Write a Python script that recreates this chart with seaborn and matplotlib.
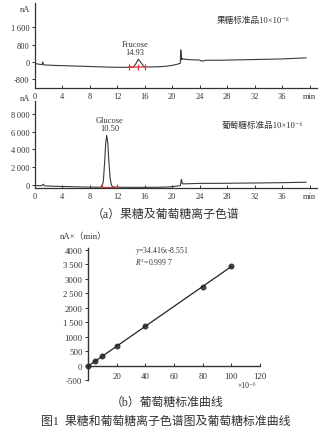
import matplotlib
matplotlib.use("Agg")
import matplotlib.pyplot as plt
import numpy as np
import pandas as pd
import seaborn as sns

# ---------------- data ----------------
fru_time = [0.2, 0.8, 1.1, 1.2, 1.3, 1.6, 3, 5, 7, 9, 11, 13, 13.9, 14.4, 14.8, 15.1,
            15.5, 15.9, 16.2, 17, 18, 19, 20, 20.8, 21.2, 21.25, 21.3, 21.4, 21.5, 22,
            23, 24, 24.3, 25, 27, 30, 33, 36, 38, 39.5]
fru_signal = [-80, -110, -120, 0, -130, -140, -160, -180, -200, -220, -240, -250, -240,
              -230, -50, 130, -40, -210, -230, -230, -220, -200, -160, -100, -60, 560, 500,
              100, 150, 120, 100, 90, 40, 80, 80, 100, 120, 140, 170, 190]
fru_mark_time = [13.7, 15.1, 16.1]
fru_mark_signal = [-240, -235, -230]

glu_time = [0.2, 1.0, 1.3, 1.4, 1.6, 3, 5, 7, 9, 9.7, 10.0, 10.2, 10.35, 10.5, 10.65, 10.8,
            11.0, 11.2, 11.5, 12, 14, 16, 18, 19.5, 20.5, 21.2, 21.35, 21.4, 21.5, 21.6,
            22, 24, 26, 28, 30, 33, 36, 39.5]
glu_signal = [-100, -120, 50, -130, -140, -180, -220, -260, -290, -280, 300, 2600, 4700,
              5600, 4800, 2800, 700, -100, -260, -290, -300, -300, -290, -260, -180, -100,
              600, 450, 100, 100, 100, 150, 150, 160, 180, 200, 230, 280]
glu_mark_time = [9.8, 12.0]
glu_mark_signal = [-250, -250]

chrom_xticks = [0, 4, 8, 12, 16, 20, 24, 28, 32, 36, 40]
chrom_xlabels = ["0", "4", "8", "12", "16", "20", "24", "28", "32", "36", "min"]
fru_yticks = [-800, 0, 800, 1600]
fru_ylabels = ["-800", "0", "800", "1\u2009600"]
glu_yticks = [0, 2000, 4000, 6000, 8000]
glu_ylabels = ["0", "2\u2009000", "4\u2009000", "6\u2009000", "8\u2009000"]

conc = [0, 5, 10, 20, 40, 80, 100]
area = [0, 165, 335, 680, 1370, 2740, 3430]
cal_xticks = [0, 20, 40, 60, 80, 100, 120]
cal_xlabels = ["", "20", "40", "60", "80", "100", "120"]
cal_yticks = [-500, 0, 500, 1000, 1500, 2000, 2500, 3000, 3500, 4000]
cal_ylabels = ["-500", "0", "500", "1000", "1\u2009500", "2000", "2\u2009500", "3000",
               "3\u2009500", "4000"]

# ---------------- style ----------------
sns.set_theme(style="ticks")
FAM = ["Liberation Serif", "Noto Sans CJK SC", "DejaVu Sans"]
plt.rcParams["font.family"] = FAM
plt.rcParams["mathtext.fontset"] = "stix"
INK = "#333333"

fig = plt.figure(figsize=(3.35, 4.31), dpi=100)
fig.patch.set_facecolor("white")
W, H = 335.0, 431.0


def px_axes(left, top, right, bottom):
    return fig.add_axes([left / W, 1 - bottom / H, (right - left) / W, (bottom - top) / H])


def style_chrom(ax, yticks, ylabels, ylim):
    ax.set_facecolor("white")
    for s in ["top", "right"]:
        ax.spines[s].set_visible(False)
    for s in ["left", "bottom"]:
        ax.spines[s].set_color(INK)
        ax.spines[s].set_linewidth(0.9)
    ax.set_xlim(0, 41)
    ax.set_ylim(*ylim)
    ax.set_xticks(chrom_xticks)
    ax.set_xticklabels(chrom_xlabels)
    ax.set_yticks(yticks)
    ax.set_yticklabels(ylabels)
    ax.tick_params(axis="x", direction="in", length=2, width=0.7, pad=3,
                   labelsize=6, colors=INK)
    ax.tick_params(axis="y", direction="out", length=2, width=0.7, pad=1.5,
                   labelsize=6, colors=INK)
    ax.set_xlabel("")
    ax.set_ylabel("")


# ---------- panel 1: fructose ----------
ax1 = px_axes(34.5, 4, 316.5, 89)
df1 = pd.DataFrame({"t": fru_time, "v": fru_signal})
sns.lineplot(data=df1, x="t", y="v", ax=ax1, color="#3a3a3a", lw=0.8, sort=False)
ax1.plot(fru_mark_time, fru_mark_signal, color="#e0303a", lw=0.9, marker="|",
         markersize=4, markeredgewidth=0.9)
style_chrom(ax1, fru_yticks, fru_ylabels, (-1205, 2730))
ax1.text(14.6, 280, "Frucose\n14.93", ha="center", va="bottom", fontsize=6,
         color=INK, linespacing=1.0)
ax1.text(0.647, 0.80, "果糖标准品10×10⁻⁶", transform=ax1.transAxes, ha="left",
         va="center", fontsize=6.2, color=INK)
fig.text(25 / W, 1 - 10 / H, "nA", ha="center", va="center", fontsize=6, color=INK)

# ---------- panel 2: glucose ----------
ax2 = px_axes(34.5, 102, 316.5, 189.3)
df2 = pd.DataFrame({"t": glu_time, "v": glu_signal})
sns.lineplot(data=df2, x="t", y="v", ax=ax2, color="#3a3a3a", lw=0.8, sort=False)
ax2.plot(glu_mark_time, glu_mark_signal, color="#e0303a", lw=0.9, marker="|",
         markersize=4, markeredgewidth=0.9)
style_chrom(ax2, glu_yticks, glu_ylabels, (-410, 9510))
ax2.text(10.9, 5950, "Glucose\n10.50", ha="center", va="bottom", fontsize=6,
         color=INK, linespacing=1.0)
ax2.text(0.665, 0.73, "葡萄糖标准品10×10⁻⁶", transform=ax2.transAxes, ha="left",
         va="center", fontsize=6.2, color=INK)
fig.text(25 / W, 1 - 99 / H, "nA", ha="center", va="center", fontsize=6, color=INK)

fig.text(166 / W, 1 - 215 / H, "（a）果糖及葡萄糖离子色谱", ha="center", va="center",
         fontsize=8.6, color=INK)

# ---------- panel 3: calibration ----------
ax3 = px_axes(88, 249.5, 260, 381.5)
ax3.set_facecolor("white")
sns.regplot(x=conc, y=area, ax=ax3, ci=None, color="#222222",
            scatter_kws=dict(s=11, clip_on=False, zorder=3),
            line_kws=dict(lw=0.9))
ax3.set_xlim(0, 120)
ax3.set_ylim(-500, 4050)
for s in ["top", "right"]:
    ax3.spines[s].set_visible(False)
for s in ["left", "bottom"]:
    ax3.spines[s].set_color(INK)
    ax3.spines[s].set_linewidth(1.0)
ax3.spines["bottom"].set_position(("data", 0))
ax3.set_xticks(cal_xticks)
ax3.set_xticklabels(cal_xlabels)
ax3.set_yticks(cal_yticks)
ax3.set_yticklabels(cal_ylabels)
ax3.tick_params(axis="x", direction="in", length=2.5, width=0.7, pad=4,
                labelsize=6.3, colors=INK)
ax3.tick_params(axis="y", direction="out", length=2.5, width=0.7, pad=1.5,
                labelsize=6.3, colors=INK)
ax3.set_xlabel("")
ax3.set_ylabel("")
ax3.text(0.275, 0.985, r"$y$=34.416$x$-8.551", transform=ax3.transAxes, ha="left",
         va="center", fontsize=5.5, color=INK)
ax3.text(0.275, 0.905, r"$R^2$=0.999 7", transform=ax3.transAxes, ha="left",
         va="center", fontsize=5.5, color=INK)
fig.text(83 / W, 1 - 237 / H, "nA×（min）", ha="center", va="center", fontsize=6.3,
         color=INK)
fig.text(247 / W, 1 - 386 / H, "×10⁻⁶", ha="center", va="center", fontsize=5.5,
         color=INK)

fig.text(167 / W, 1 - 403 / H, "（b）葡萄糖标准曲线", ha="center", va="center",
         fontsize=8.6, color=INK)
fig.text(166 / W, 1 - 422 / H, "图1  果糖和葡萄糖离子色谱图及葡萄糖标准曲线",
         ha="center", va="center", fontsize=8.6, color=INK)

fig.savefig("out.png", dpi=100, facecolor="white")
